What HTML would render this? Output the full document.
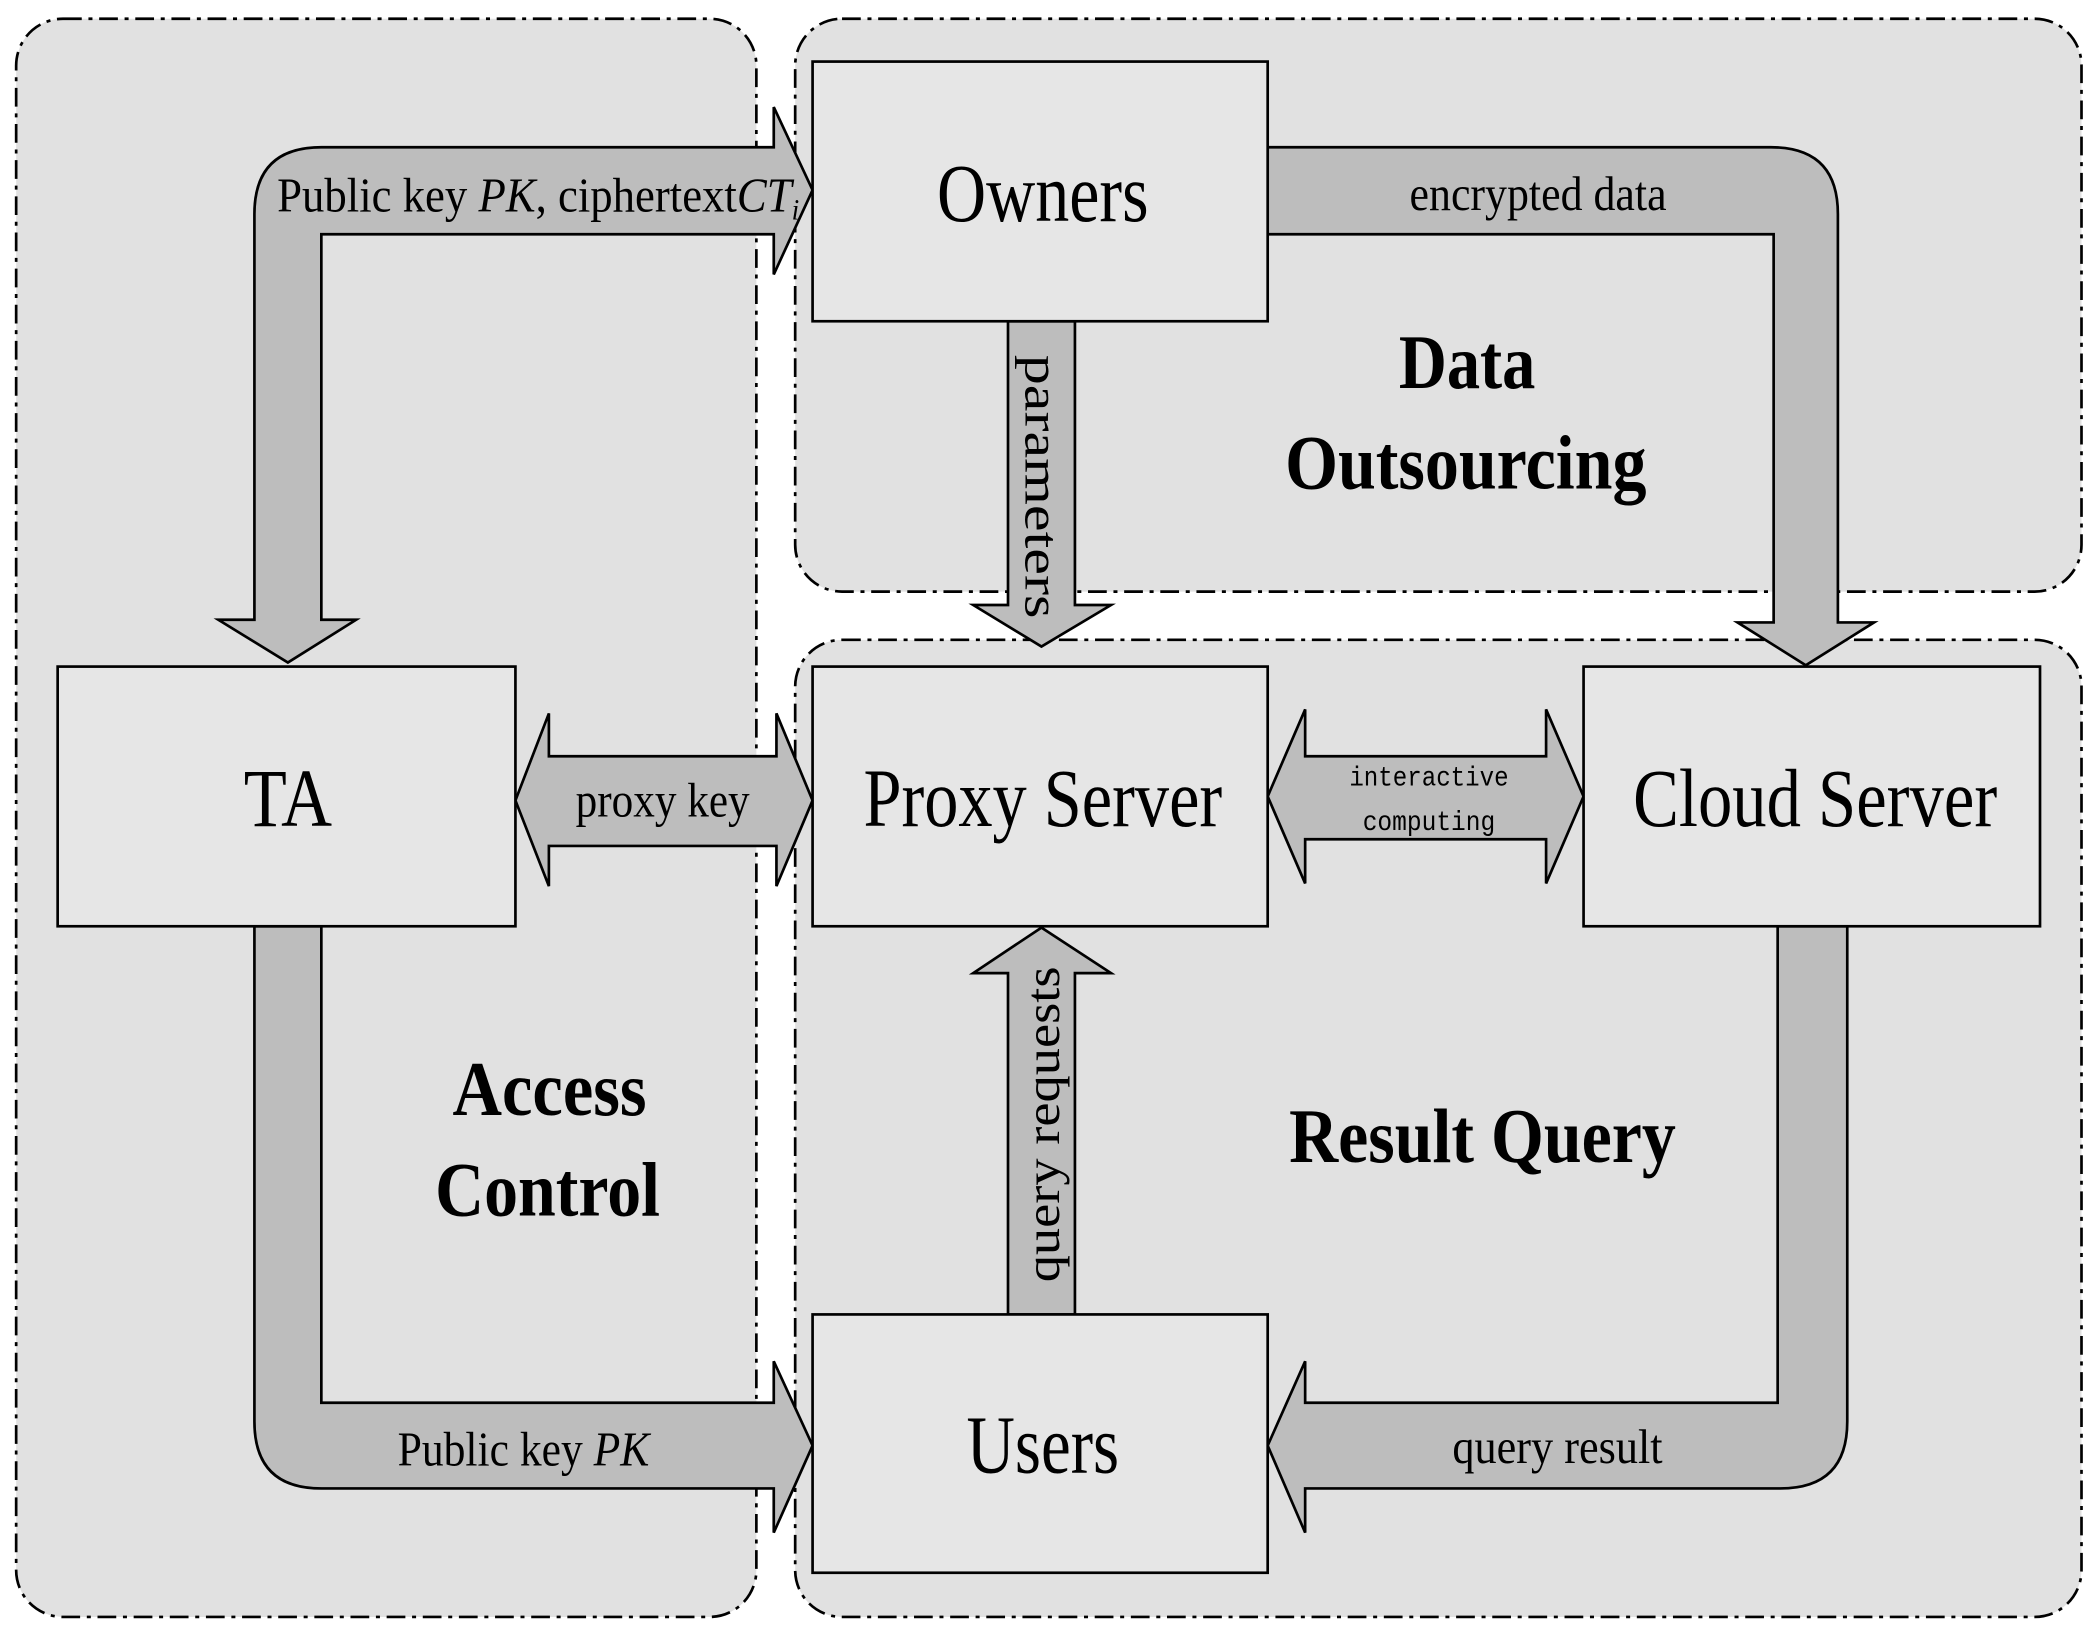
<!DOCTYPE html>
<html><head><meta charset="utf-8"><style>
html,body{margin:0;padding:0;background:#fff;}
svg{display:block;}
text{font-family:"Liberation Serif",serif;fill:#000;}
</style></head><body>
<svg width="2099" height="1633" viewBox="0 0 1568 1220" xmlns="http://www.w3.org/2000/svg">
<g fill="#e1e1e1" stroke="#000" stroke-width="2" stroke-dasharray="14,5,3,5">
<rect x="12" y="14" width="553" height="1194" rx="35"/>
<rect x="594" y="14" width="961" height="428" rx="35"/>
<rect x="594" y="478" width="961" height="730" rx="35"/>
</g>
<g fill="#bdbdbd" stroke="#000" stroke-width="2" stroke-linejoin="miter">
<path d="M578,110 L578,80 L607,142 L578,205 L578,175 L240,175 L240,463 L266,463 L215,495 L163,463 L190,463 L190,160 Q190,110 240,110 Z"/>
<path d="M947,110 L1323,110 Q1373,110 1373,160 L1373,465 L1400,465 L1349,497 L1298,465 L1325,465 L1325,175 L947,175 Z"/>
<path d="M753,240 L803,240 L803,452 L830,452 L778,483 L727,452 L753,452 Z"/>
<path d="M385,598 L410,533 L410,565 L580,565 L580,533 L607,598 L580,662 L580,632 L410,632 L410,662 Z"/>
<path d="M947,595 L975,530 L975,565 L1155,565 L1155,530 L1183,595 L1155,660 L1155,627 L975,627 L975,660 Z"/>
<path d="M753,982 L803,982 L803,727 L830,727 L778,693 L727,727 L753,727 Z"/>
<path d="M190,692 L240,692 L240,1048 L578,1048 L578,1017 L607,1080 L578,1145 L578,1112 L240,1112 Q190,1112 190,1062 Z"/>
<path d="M1328,692 L1380,692 L1380,1062 Q1380,1112 1330,1112 L975,1112 L975,1145 L947,1080 L975,1017 L975,1048 L1328,1048 Z"/>
</g>
<g fill="#e6e6e6" stroke="#000" stroke-width="2">
<rect x="607" y="46" width="340" height="194"/>
<rect x="43" y="498" width="342" height="194"/>
<rect x="607" y="498" width="340" height="194"/>
<rect x="1183" y="498" width="341" height="194"/>
<rect x="607" y="982" width="340" height="193"/>
</g>
<g font-size="62">
<text x="700" y="165" textLength="158" lengthAdjust="spacingAndGlyphs">Owners</text>
<text x="182" y="617" textLength="66" lengthAdjust="spacingAndGlyphs">TA</text>
<text x="645" y="617" textLength="268" lengthAdjust="spacingAndGlyphs">Proxy Server</text>
<text x="1220" y="617" textLength="272" lengthAdjust="spacingAndGlyphs">Cloud Server</text>
<text x="722" y="1100" textLength="114" lengthAdjust="spacingAndGlyphs">Users</text>
</g>
<g font-size="58" font-weight="bold">
<text x="1045" y="290" textLength="102" lengthAdjust="spacingAndGlyphs">Data</text>
<text x="960" y="365" textLength="270" lengthAdjust="spacingAndGlyphs">Outsourcing</text>
<text x="338" y="833" textLength="145" lengthAdjust="spacingAndGlyphs">Access</text>
<text x="325" y="908" textLength="168" lengthAdjust="spacingAndGlyphs">Control</text>
<text x="963" y="868" textLength="289" lengthAdjust="spacingAndGlyphs">Result Query</text>
</g>
<g font-size="36">
<text x="207" y="158" textLength="390" lengthAdjust="spacingAndGlyphs">Public key <tspan font-style="italic">PK</tspan>, ciphertext<tspan font-style="italic">CT</tspan><tspan font-style="italic" font-size="22" dy="6">i</tspan></text>
<text x="1053" y="157" textLength="192" lengthAdjust="spacingAndGlyphs">encrypted data</text>
<text x="430" y="610" textLength="130" lengthAdjust="spacingAndGlyphs">proxy key</text>
<text x="297" y="1095" textLength="188" lengthAdjust="spacingAndGlyphs">Public key <tspan font-style="italic">PK</tspan></text>
<text x="1085" y="1093" textLength="157" lengthAdjust="spacingAndGlyphs">query result</text>
<text transform="translate(766,265) rotate(90)" textLength="197" lengthAdjust="spacingAndGlyphs">parameters</text>
<text transform="translate(791,958) rotate(-90)" textLength="236" lengthAdjust="spacingAndGlyphs">query requests</text>
</g>
<g font-size="21">
<text x="1008" y="587" textLength="119" lengthAdjust="spacingAndGlyphs" style="font-family:'Liberation Mono',monospace">interactive</text>
<text x="1018" y="620" textLength="99" lengthAdjust="spacingAndGlyphs" style="font-family:'Liberation Mono',monospace">computing</text>
</g>
</svg>
</body></html>
